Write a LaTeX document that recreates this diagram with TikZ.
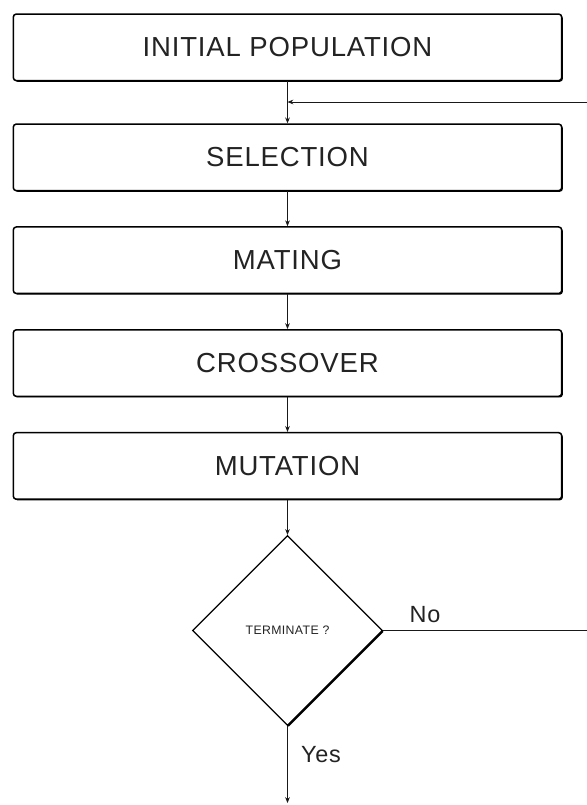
\documentclass[tikz,border=0pt]{standalone}
\usepackage{fontspec}
\setmainfont{Liberation Sans}[LetterSpace=3]
\usepackage{xcolor}
\usepackage{tikz}
\usetikzlibrary{shapes.geometric, arrows.meta, positioning, shadows}
\definecolor{cline}{RGB}{25, 25, 25}
\definecolor{ctext}{RGB}{35, 35, 35}

\begin{document}
\begin{tikzpicture}[
  box/.style={rectangle, rounded corners=2.5pt, minimum width=16.45cm, minimum height=1.995cm,
    draw=black, line width=1.3pt, fill=white, text=ctext, font=\fontsize{23.5}{27}\selectfont,
    drop shadow={shadow xshift=1pt, shadow yshift=-1pt, opacity=1, fill=black}},
  decision/.style={diamond, aspect=1, minimum width=5.7cm, minimum height=5.7cm, inner sep=0pt,
    draw=black, line width=1pt, fill=white, text=ctext, font=\fontsize{10.5}{12}\selectfont,
    drop shadow={shadow xshift=1.1pt, shadow yshift=-1.1pt, opacity=1, fill=black}},
  arrow/.style={-{Stealth[length=5pt, width=4pt]}, line width=0.7pt, color=cline},
  line/.style={line width=0.7pt, color=cline},
  label/.style={text=ctext, font=\fontsize{20}{23}\selectfont},
]
\useasboundingbox (0,0) rectangle (17.61,-24.15);

% ---- GA steps ----
\node[box] (init) at (8.625, -1.42) {INITIAL POPULATION};
\node[box, below=1.26cm of init] (select) {SELECTION};
\node[box, below=1.045cm of select] (mate) {MATING};
\node[box, below=1.045cm of mate] (cross) {CROSSOVER};
\node[box, below=1.045cm of cross] (mutate) {MUTATION};

% ---- Stop test ----
\node[decision, below=1.05cm of mutate] (term) {TERMINATE ?};

% free ends
\coordinate (back) at (17.61, -3.06);
\coordinate (noend) at (back |- term.east);
\coordinate (done) at (8.625, -24.09);

% ---- Arrows ----
\draw[arrow] (init.south) -- (select.north);
\draw[arrow] (back) -- (back -| init.south);
\draw[arrow] (select.south) -- (mate.north);
\draw[arrow] (mate.south) -- (cross.north);
\draw[arrow] (cross.south) -- (mutate.north);
\draw[arrow] (mutate.south) -- (term.north);
\draw[line] (term.east) -- (noend);
\draw[arrow] (term.south) -- (done);

% ---- Labels ----
\node[label] (no) at (12.75, -18.45) {No};
\node[label] (yes) at (9.63, -22.65) {Yes};

\end{tikzpicture}
\end{document}
